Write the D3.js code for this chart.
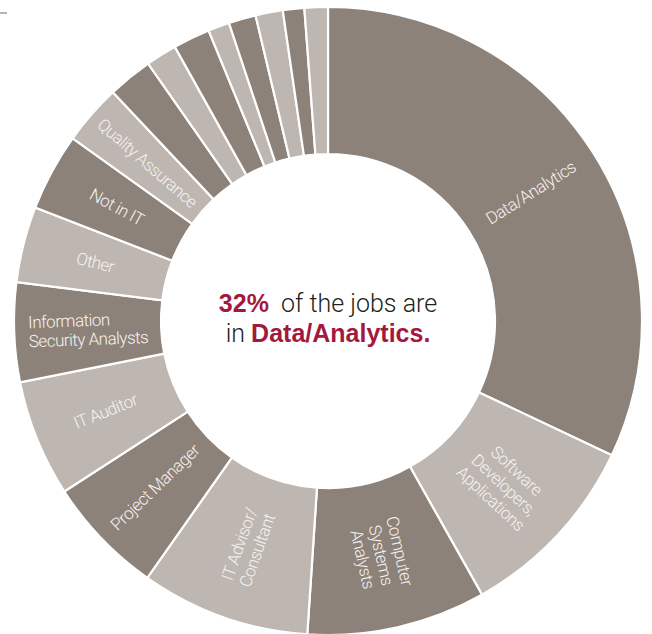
<!DOCTYPE html>
<html>
<head>
<meta charset="utf-8">
<script src="https://cdn.jsdelivr.net/npm/d3@7/dist/d3.min.js"></script>
<style>
  html, body { margin: 0; padding: 0; background: #fff; }
  svg { display: block; }
</style>
</head>
<body>
<div id="chart"></div>
<script>
// Share of jobs (%), clockwise from 12 o'clock
const shares = [32, 9.8, 9.2, 8.7, 6.1, 6.0, 5.1, 3.9, 4.0, 3.1, 2.3, 1.6, 1.9, 1.1, 1.4, 1.4, 1.1, 1.2];

// Slice labels, one entry per line (unlabelled slices are empty)
const labelLines = [
    ['Data/Analytics'],
    ['Software', 'Developers,', 'Applications'],
    ['Computer', 'Systems', 'Analysts'],
    ['IT Advisor/', 'Consultant'],
    ['Project Manager'],
    ['IT Auditor'],
    ['Information', 'Security Analysts'],
    ['Other'],
    ['Not in IT'],
    ['Quality Assurance'],
    [], [], [], [], [], [], [], []
];

// Left-aligned multi-line labels
const leftAligned = ['Information'];

const centerLine1 = { bold: '32%', rest: 'of the jobs are' };
const centerLine2 = { rest: 'in', bold: 'Data/Analytics.' };

const WIDTH = 652;
const HEIGHT = 634;
const CX = 328;
const CY = 321;
const OUTER = 314;
const INNER = 167;
const LABEL_R = 240;

const DARK = '#8d8279';
const LIGHT = '#bdb6b1';
const ACCENT = '#a3193e';

const svg = d3.select('#chart')
    .append('svg')
    .attr('width', WIDTH)
    .attr('height', HEIGHT);

// small rule at the top-left edge
svg.append('line')
    .attr('x1', 0).attr('x2', 7)
    .attr('y1', 13).attr('y2', 13)
    .attr('stroke', '#9a9a9a')
    .attr('stroke-width', 1.5);

const pie = d3.pie().sort(null).value(d => d);
const arcs = pie(shares);

const arc = d3.arc().innerRadius(INNER).outerRadius(OUTER);
const labelArc = d3.arc().innerRadius(LABEL_R).outerRadius(LABEL_R);

const g = svg.append('g').attr('transform', `translate(${CX},${CY})`);

g.selectAll('path.slice')
    .data(arcs)
    .enter()
    .append('path')
    .attr('class', 'slice')
    .attr('d', arc)
    .attr('fill', (d, i) => i % 2 === 0 ? DARK : LIGHT)
    .attr('stroke', '#fff')
    .attr('stroke-width', 2.2)
    .attr('stroke-linejoin', 'miter');

// Radial labels
const labels = g.selectAll('g.label')
    .data(arcs.filter((d, i) => labelLines[i].length))
    .enter()
    .append('g')
    .attr('class', 'label')
    .attr('transform', d => {
        const [x, y] = labelArc.centroid(d);
        const mid = (d.startAngle + d.endAngle) / 2 * 180 / Math.PI;
        const rot = mid < 180 ? mid - 90 : mid - 270;
        return `translate(${x},${y}) rotate(${rot})`;
    });

labels.each(function(d) {
    const lines = labelLines[d.index];
    const lh = 19;
    const t = d3.select(this).append('text')
        .attr('font-family', 'Roboto, "Liberation Sans", sans-serif')
        .attr('font-weight', 300)
        .attr('font-size', 17)
        .attr('letter-spacing', -0.5)
        .attr('fill', '#f6f3f0')
        .attr('text-anchor', 'middle');
    lines.forEach((line, i) => {
        t.append('tspan')
            .attr('x', 0)
            .attr('y', (i - (lines.length - 1) / 2) * lh)
            .attr('dy', '0.35em')
            .text(line);
    });
    if (leftAligned.includes(lines[0])) {
        let maxW = 0;
        t.selectAll('tspan').each(function() {
            maxW = Math.max(maxW, this.getComputedTextLength());
        });
        t.attr('text-anchor', 'start');
        t.selectAll('tspan').attr('x', -maxW / 2);
    }
});

// Centre text
const center = svg.append('g').attr('transform', `translate(${CX},${CY})`);
const fontSize = 25;

const l1 = center.append('text')
    .attr('text-anchor', 'middle')
    .attr('y', -9)
    .attr('font-size', fontSize);
l1.append('tspan')
    .attr('font-family', '"Liberation Sans", Arial, sans-serif')
    .attr('font-weight', 700)
    .attr('fill', ACCENT)
    .text(centerLine1.bold);
l1.append('tspan')
    .attr('font-family', 'Roboto, sans-serif')
    .attr('font-weight', 300)
    .attr('fill', '#231f20')
    .text('\u00a0\u00a0' + centerLine1.rest);

const l2 = center.append('text')
    .attr('text-anchor', 'middle')
    .attr('y', 21)
    .attr('font-size', fontSize);
l2.append('tspan')
    .attr('font-family', 'Roboto, sans-serif')
    .attr('font-weight', 300)
    .attr('fill', '#231f20')
    .text(centerLine2.rest + '\u00a0');
l2.append('tspan')
    .attr('font-family', '"Liberation Sans", Arial, sans-serif')
    .attr('font-weight', 700)
    .attr('fill', ACCENT)
    .text(centerLine2.bold);
</script>
</body>
</html>
